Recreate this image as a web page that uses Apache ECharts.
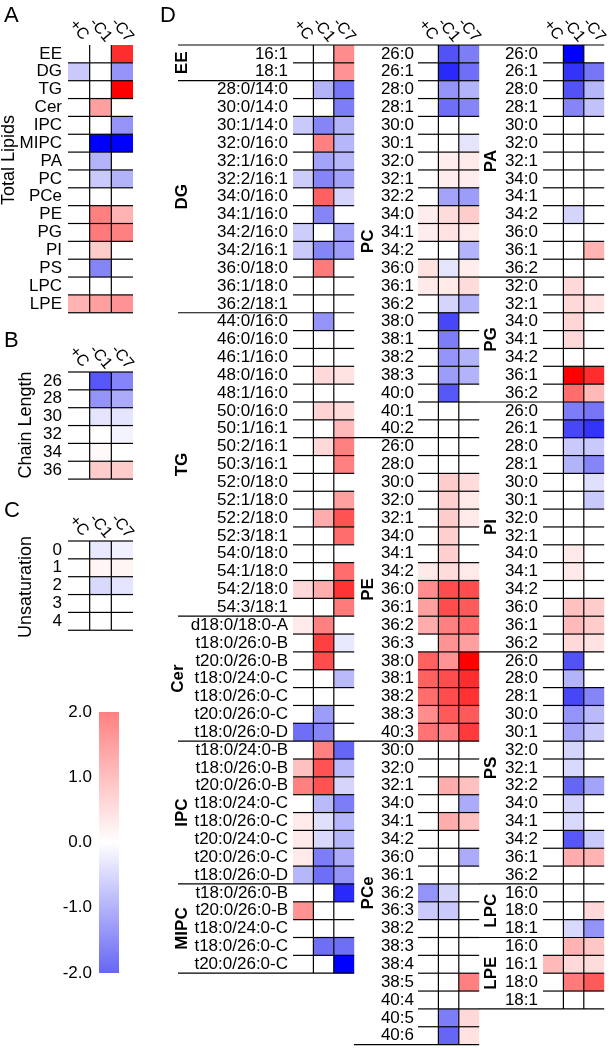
<!DOCTYPE html>
<html><head><meta charset="utf-8">
<script src="https://cdn.jsdelivr.net/npm/echarts@6/dist/echarts.min.js"></script>
<style>html,body{margin:0;padding:0;background:#fff}#c{width:611px;height:1048px}</style>
</head><body><div id="c"></div>
<script>
// ---------------- DATA ----------------
const conditions = ['+C', '-C1', '-C7'];

// Panel A: total lipids
const totalLipidClasses = ['EE','DG','TG','Cer','IPC','MIPC','PA','PC','PCe','PE','PG','PI','PS','LPC','LPE'];
const totalLipidValues = [
  [0, 0, 3.3], [-0.7, 0, -1.4], [0, 0, 4.0], [0, 1.5, 0], [0, 0, -1.4],
  [0, -4.0, -4.0], [0, -1.0, 0], [0, -0.7, -1.0], [0, 0, 0], [0, 2.0, 1.2],
  [0, 2.1, 2.0], [0, 0.8, 0], [0, -1.6, 0], [0, 0, 0], [1.2, 1.5, 1.7]
];

// Panel B: chain length
const chainLengths = ['26','28','30','32','34','36'];
const chainValues = [[0, -2.3, -1.6], [0, -1.4, -1.1], [0, -0.35, -0.35], [0, 0, -0.15], [0, 0.1, 0], [0, 0.8, 0.8]];

// Panel C: unsaturation
const unsatLevels = ['0','1','2','3','4'];
const unsatValues = [[0, -0.3, -0.2], [0, 0.15, 0.15], [0, -0.5, -0.35], [0, 0, 0], [0, 0, 0]];

// Colour scale ticks
const colorScaleMin = -2, colorScaleMax = 2, colorScaleStep = 1;

// Panel D, column 1
const eeLabels = ['16:1','18:1'];
const eeValues = [[0, 0, 1.8], [0, 0, 1.7]];
const dgLabels = ['28:0/14:0','30:0/14:0','30:1/14:0','32:0/16:0','32:1/16:0','32:2/16:1','34:0/16:0','34:1/16:0','34:2/16:0','34:2/16:1','36:0/18:0','36:1/18:0','36:2/18:1'];
const dgValues = [[0,-1.0,-1.8],[0,0,-1.7],[-0.7,-1.6,-1.0],[0,2.0,-0.95],[0,-1.2,-0.95],[-0.65,-1.6,-1.2],[0,2.5,-0.55],[0,-1.6,0],[-0.65,0,-1.2],[-0.7,-1.6,-1.3],[0,2.1,0],[0,0,0],[0,0,0]];
const tgLabels = ['44:0/16:0','46:0/16:0','46:1/16:0','48:0/16:0','48:1/16:0','50:0/16:0','50:1/16:1','50:2/16:1','50:3/16:1','52:0/18:0','52:1/18:0','52:2/18:0','52:3/18:1','54:0/18:0','54:1/18:0','54:2/18:0','54:3/18:1'];
const tgValues = [[0,-1.4,0],[0,0,0],[0,0,0],[0,0.6,0.45],[0,0,0],[0,0.7,0.55],[0,0,1.1],[0,0.6,2.0],[0,0,2.0],[0,0,0],[0,0,1.5],[0,1.3,2.7],[0,0,2.3],[0,0,0],[0,0,2.3],[0.6,1.3,3.2],[0,0,2.1]];
const cerLabels = ['d18:0/18:0-A','t18:0/26:0-B','t20:0/26:0-B','t18:0/24:0-C','t18:0/26:0-C','t20:0/26:0-C','t18:0/26:0-D'];
const cerValues = [[0.35,2.0,0],[0,3.0,-0.3],[0,2.8,0],[0,0,-0.9],[0,0,0],[0,-1.3,0],[-1.9,-1.6,0]];
const ipcLabels = ['t18:0/24:0-B','t18:0/26:0-B','t20:0/26:0-B','t18:0/24:0-C','t18:0/26:0-C','t20:0/24:0-C','t20:0/26:0-C','t18:0/26:0-D'];
const ipcValues = [[0,2.0,-2.0],[1.0,2.7,-0.9],[2.0,2.7,-0.55],[0,-0.9,-1.7],[0.35,-0.4,-0.95],[0.35,-0.5,-0.95],[0.35,-1.7,-1.1],[-0.95,-1.9,-1.4]];
const mipcLabels = ['t18:0/26:0-B','t20:0/26:0-B','t18:0/24:0-C','t18:0/26:0-C','t20:0/26:0-C'];
const mipcValues = [[0,0,-3.2],[1.7,0,0],[0,0,0],[0,-1.9,-1.9],[0,0,-4.0]];

// Panel D, column 2
const pcLabels = ['26:0','26:1','28:0','28:1','30:0','30:1','32:0','32:1','32:2','34:0','34:1','34:2','36:0','36:1','36:2','38:0','38:1','38:2','38:3','40:0','40:1','40:2'];
const pcValues = [[0,-2.4,-1.7],[0,-3.2,-1.9],[0,-1.4,-1.0],[0,-1.9,-1.6],[0,0,0],[0,0,-0.35],[0,0.3,0.35],[0,0.3,0.3],[0,-1.2,-1.3],[0.3,0.55,0.8],[0.3,0.45,0.35],[0,0,-1.0],[0.45,-0.35,0.3],[0.35,0.35,0.55],[0,-0.55,-1.0],[0,-2.6,0],[0,-1.7,0],[0,-1.4,-1.0],[0,-1.3,-1.0],[0,-2.3,0],[0,0,0],[0,0,0]];
const peLabels = ['26:0','28:0','30:0','32:0','32:1','34:0','34:1','34:2','36:0','36:1','36:2','36:3','38:0','38:1','38:2','38:3','40:3'];
const peValues = [[0,0,0],[0,0,0],[0,0.8,0.55],[0,0.75,0.35],[0,0.8,0.35],[0,0.75,0],[0,0.75,0],[0.35,0.55,0.35],[1.8,2.8,2.8],[1.5,2.8,2.6],[1.3,2.0,2.3],[0,1.7,1.5],[2.5,1.7,4.0],[2.5,2.8,3.3],[2.3,2.8,3.2],[1.8,2.6,2.6],[2.2,2.0,3.1]];
const pceLabels = ['30:0','32:0','32:1','34:0','34:1','34:2','36:0','36:1','36:2','36:3','38:2','38:3','38:4','38:5','40:4','40:5','40:6'];
const pceValues = [[0,0,0],[0,0,0],[0,1.3,1.0],[0,0,-1.1],[0,1.3,1.0],[0,0,0],[0,0,-1.1],[0,0,0],[-1.4,-0.55,0],[-0.7,-0.7,0],[0,0,0],[0,0,0],[0,0,0],[0,0,2.0],[0,0,0],[0,-1.7,0.6],[0,-2.0,0.45]];

// Panel D, column 3
const paLabels = ['26:0','26:1','28:0','28:1','30:0','32:0','32:1','34:0','34:1','34:2','36:0','36:1','36:2'];
const paValues = [[0,-4.0,0],[0,-3.0,-1.8],[0,-2.4,-0.95],[0,-1.6,-0.8],[0,0,0],[0,0,0],[0,0,0],[0,0,0],[0,0,0],[0,-0.55,0],[0,0,0],[0,0,1.2],[0,0,0]];
const pgLabels = ['32:0','32:1','34:0','34:1','34:2','36:1','36:2'];
const pgValues = [[0,0.6,0],[0,0.6,0.45],[0,0.65,0],[0,0.6,0],[0,0,0],[0,4.0,3.3],[0,2.3,1.1]];
const piLabels = ['26:0','26:1','28:0','28:1','30:0','30:1','32:0','32:1','34:0','34:1','34:2','36:0','36:1','36:2'];
const piValues = [[0,-1.7,-1.8],[0,-2.6,-3.0],[0,-0.7,-0.7],[0,-1.0,-1.6],[0,0,-0.4],[0,0,-0.7],[0,0,0],[0,0,0],[0,0.35,0],[0,0.35,0],[0,0,0],[0,1.0,0.8],[0,1.1,0.8],[0,0.6,0.45]];
const psLabels = ['26:0','28:0','28:1','30:0','30:1','32:0','32:1','32:2','34:0','34:1','34:2','36:1','36:2'];
const psValues = [[0,-2.4,0],[0,-1.0,0],[0,-2.6,-1.6],[0,-1.4,-0.9],[0,-1.2,-0.7],[0,-0.55,0],[0,-0.5,0],[0,-2.0,-1.2],[0,-0.55,0],[0,-0.5,0],[0,-2.3,-0.7],[0,1.3,1.2],[0,0,0]];
const lpcLabels = ['16:0','18:0','18:1'];
const lpcValues = [[0,0,0],[0,0,0.6],[0,-0.5,-1.4]];
const lpeLabels = ['16:0','16:1','18:0','18:1'];
const lpeValues = [[0,1.2,0.9],[1.1,0.6,0.55],[0,2.1,2.6],[0,0,0]];

const dColumns = [
  [['EE', eeLabels, eeValues], ['DG', dgLabels, dgValues], ['TG', tgLabels, tgValues], ['Cer', cerLabels, cerValues], ['IPC', ipcLabels, ipcValues], ['MIPC', mipcLabels, mipcValues]],
  [['PC', pcLabels, pcValues], ['PE', peLabels, peValues], ['PCe', pceLabels, pceValues]],
  [['PA', paLabels, paValues], ['PG', pgLabels, pgValues], ['PI', piLabels, piValues], ['PS', psLabels, psValues], ['LPC', lpcLabels, lpcValues], ['LPE', lpeLabels, lpeValues]]
];

// ---------------- LAYOUT / STYLE ----------------
const FONT = '"Liberation Sans", Arial, Helvetica, sans-serif';
const ROW = 17.85;
const LW = 1.2;
const D_TOP = 45;
const dColLeft = [293, 418, 543];
const dCellW = 20.4;
const dSepStart = [178, 354, 479];
const dNameGap = [102, 40, 43];
const dLabelMargin = [5, 4, 5];

const grids = [], xAxes = [], yAxes = [], series = [], graphics = [], heatSeries = [];

function makeRender(n, topLine, bottomLine) {
  return function (params, api) {
    const col = api.value(0), row = api.value(1);
    const c = api.coord([col, row]);
    const s = api.size([1, 1]);
    const w = s[0], h = s[1];
    const x0 = c[0] - w / 2, y0 = c[1] - h / 2;
    const ls = { stroke: '#000', lineWidth: LW };
    const children = [{ type: 'rect', shape: { x: x0, y: y0, width: w, height: h }, style: { fill: api.visual('color') }, z2: 0 }];
    if (row < n - 1 || bottomLine) children.push({ type: 'line', shape: { x1: x0, y1: y0 + h, x2: x0 + w, y2: y0 + h }, style: ls, z2: 10 });
    if (row === 0 && topLine) children.push({ type: 'line', shape: { x1: x0, y1: y0, x2: x0 + w, y2: y0 }, style: ls, z2: 10 });
    if (col < 2) children.push({ type: 'line', shape: { x1: x0 + w, y1: y0, x2: x0 + w, y2: y0 + h }, style: ls, z2: 10 });
    return { type: 'group', children };
  };
}

function addPanel(cfg) {
  const gi = grids.length;
  grids.push({ left: cfg.left, top: cfg.top, width: cfg.cellW * 3, height: cfg.labels.length * ROW });
  xAxes.push({
    gridIndex: gi, type: 'category', data: conditions, position: 'top', show: !!cfg.header,
    axisLine: { show: false }, axisTick: { show: false }, splitLine: { show: false },
    axisLabel: { interval: 0, rotate: 50, align: 'center', verticalAlign: 'middle', margin: 15, fontSize: 16, color: '#000', fontFamily: FONT }
  });
  yAxes.push({
    gridIndex: gi, type: 'category', data: cfg.labels, inverse: true,
    axisLine: { show: false }, axisTick: { show: false }, splitLine: { show: false },
    axisLabel: { interval: 0, margin: cfg.margin, fontSize: 17, color: '#000', fontFamily: FONT },
    name: cfg.name || '', nameLocation: 'middle', nameRotate: 90, nameGap: cfg.nameGap || 0,
    nameTextStyle: { fontWeight: 'bold', fontSize: 17, color: '#000', fontFamily: FONT }
  });
  const data = [];
  cfg.values.forEach((r, ri) => r.forEach((v, ci) => data.push([ci, ri, v])));
  heatSeries.push(series.length);
  series.push({
    type: 'custom', xAxisIndex: gi, yAxisIndex: gi, data, encode: { x: 0, y: 1 },
    renderItem: makeRender(cfg.labels.length, cfg.topLine, cfg.bottomLine), silent: true
  });
}

// Panels A, B, C
addPanel({ left: 68, top: 45, cellW: 21.67, labels: totalLipidClasses, values: totalLipidValues, header: true, margin: 6, topLine: false, bottomLine: true });
addPanel({ left: 68, top: 372, cellW: 21.67, labels: chainLengths, values: chainValues, header: true, margin: 6, topLine: true, bottomLine: true });
addPanel({ left: 68, top: 541, cellW: 21.67, labels: unsatLevels, values: unsatValues, header: true, margin: 6, topLine: true, bottomLine: true });

// Panel D
dColumns.forEach((groups, ci) => {
  let rowStart = 0;
  groups.forEach((g, gi) => {
    const top = D_TOP + rowStart * ROW;
    addPanel({ left: dColLeft[ci], top, cellW: dCellW, labels: g[1], values: g[2], header: gi === 0, margin: dLabelMargin[ci], name: g[0], nameGap: dNameGap[ci], topLine: false, bottomLine: false });
    rowStart += g[1].length;
    const yb = D_TOP + rowStart * ROW;
    graphics.push({ type: 'line', shape: { x1: dSepStart[ci], y1: yb, x2: dColLeft[ci] + dCellW * 3, y2: yb }, style: { stroke: '#000', lineWidth: LW }, z: 10 });
  });
});
graphics.push({ type: 'line', shape: { x1: dSepStart[0], y1: D_TOP, x2: dColLeft[2] + dCellW * 3, y2: D_TOP }, style: { stroke: '#000', lineWidth: LW }, z: 10 });

// Colour bar
const cbGrid = grids.length;
grids.push({ left: 99, top: 712, width: 20, height: 261 });
xAxes.push({ gridIndex: cbGrid, type: 'category', data: ['scale'], show: false });
yAxes.push({
  gridIndex: cbGrid, type: 'value', min: colorScaleMin, max: colorScaleMax, interval: colorScaleStep,
  axisLine: { show: false }, axisTick: { show: false }, splitLine: { show: false },
  axisLabel: { margin: 7, fontSize: 17, color: '#000', fontFamily: FONT, formatter: v => v.toFixed(1) }
});
series.push({
  type: 'custom', xAxisIndex: cbGrid, yAxisIndex: cbGrid, data: [[0, colorScaleMin, colorScaleMax]], silent: true,
  renderItem: function (params, api) {
    const top = api.coord([0, api.value(2)]);
    const bot = api.coord([0, api.value(1)]);
    const w = api.size([1, 0])[0];
    return {
      type: 'rect', shape: { x: top[0] - w / 2, y: top[1], width: w, height: bot[1] - top[1] },
      style: { fill: { type: 'linear', x: 0, y: 0, x2: 0, y2: 1, colorStops: [
        { offset: 0, color: '#FF8080' }, { offset: 0.5, color: '#FFFFFF' }, { offset: 1, color: '#6666F5' }] } }
    };
  }
});

// Titles
const textStyle = (t, size, weight) => ({ text: t, fontSize: size, fontWeight: weight || 'normal', fontFamily: FONT, fill: '#000', align: 'center', verticalAlign: 'middle' });
graphics.push({ type: 'text', x: 4, y: 5, style: Object.assign(textStyle('A', 22), { align: 'left', verticalAlign: 'top' }) });
graphics.push({ type: 'text', x: 4, y: 330, style: Object.assign(textStyle('B', 22), { align: 'left', verticalAlign: 'top' }) });
graphics.push({ type: 'text', x: 4, y: 500, style: Object.assign(textStyle('C', 22), { align: 'left', verticalAlign: 'top' }) });
graphics.push({ type: 'text', x: 160, y: 5, style: Object.assign(textStyle('D', 22), { align: 'left', verticalAlign: 'top' }) });
graphics.push({ type: 'text', x: 9, y: 160, rotation: Math.PI / 2, style: textStyle('Total Lipids', 18) });
graphics.push({ type: 'text', x: 26, y: 425, rotation: Math.PI / 2, style: textStyle('Chain Length', 18) });
graphics.push({ type: 'text', x: 26, y: 587, rotation: Math.PI / 2, style: textStyle('Unsaturation', 18) });

const chart = echarts.init(document.getElementById('c'), null, { renderer: 'canvas' });
chart.setOption({
  animation: false,
  backgroundColor: '#fff',
  grid: grids,
  xAxis: xAxes,
  yAxis: yAxes,
  visualMap: {
    type: 'continuous', show: false, min: -4, max: 4, dimension: 2, seriesIndex: heatSeries,
    inRange: { color: ['#0000FF', '#6666F5', '#FFFFFF', '#FF8080', '#FF0000'] }
  },
  series,
  graphic: graphics
});
</script>
</body></html>
